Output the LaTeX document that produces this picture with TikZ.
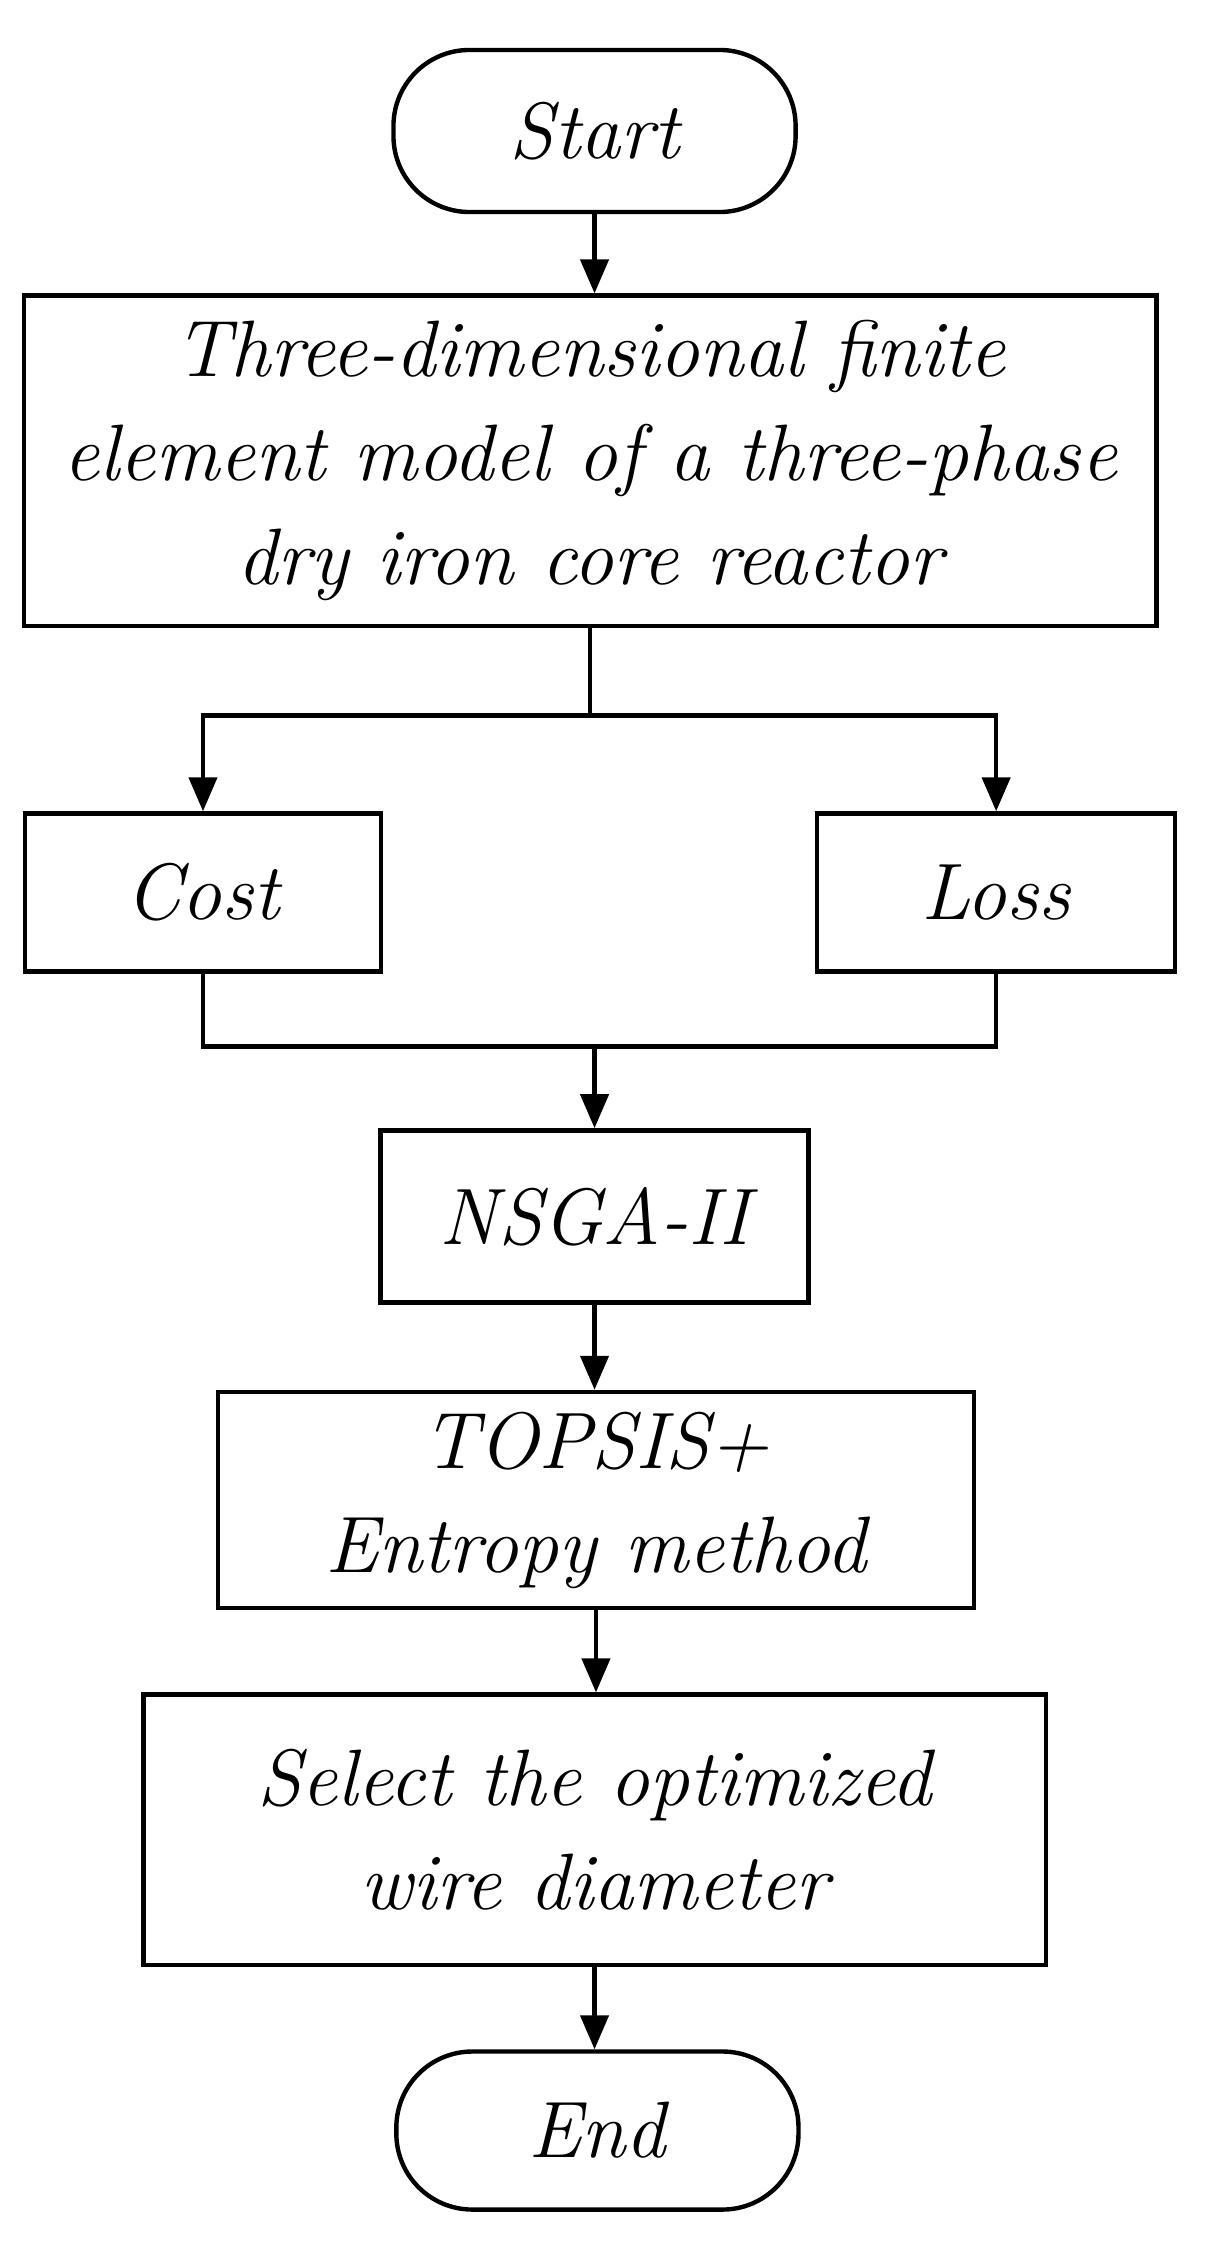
\documentclass[tikz,border=0pt]{standalone}
\usetikzlibrary{arrows.meta}
\begin{document}
\begin{tikzpicture}[x=0.7195pt,y=-0.7195pt,
  every node/.style={draw,line width=2.2pt,align=center,font=\fontsize{40}{52}\selectfont\itshape,inner sep=0pt},
  box/.style={rectangle},
  term/.style={rounded corners=38pt},
  arr/.style={line width=2.2pt,-{Triangle[length=17pt,width=14pt]}},
  ln/.style={line width=2.2pt}]
\useasboundingbox (0,0) rectangle (850,1563);
\node[term,minimum width=201pt,minimum height=81pt] (start) at (413,91) {Start};
\node[box,minimum width=566pt,minimum height=165pt] (m) at (410,320) {Three-dimensional finite\\element model of a three-phase\\dry iron core reactor};
\node[box,minimum width=178pt,minimum height=79pt] (cost) at (141,620) {Cost};
\node[box,minimum width=179pt,minimum height=79pt] (loss) at (692,620) {Loss};
\node[box,minimum width=214pt,minimum height=86pt] (ns) at (413,845) {NSGA-II};
\node[box,minimum width=378pt,minimum height=108pt] (top) at (414,1042) {TOPSIS+\\Entropy method};
\node[box,minimum width=451pt,minimum height=135pt] (sel) at (413,1271) {Select the optimized\\wire diameter};
\node[term,minimum width=201pt,minimum height=79pt] (end) at (415,1480) {End};
\coordinate (s1) at (410,497);
\coordinate (s2) at (413,727);
\draw[arr] (start.south) -- (start.south |- m.north);
\draw[ln] (m.south) -- (s1);
\draw[arr] (s1) -| (cost.north);
\draw[arr] (s1) -| (loss.north);
\draw[ln] (cost.south) |- (s2) -| (loss.south);
\draw[arr] (s2) -- (ns.north);
\draw[arr] (ns.south) -- (ns.south |- top.north);
\draw[arr] (top.south) -- (top.south |- sel.north);
\draw[arr] (sel.south) -- (sel.south |- end.north);
\end{tikzpicture}
\end{document}
